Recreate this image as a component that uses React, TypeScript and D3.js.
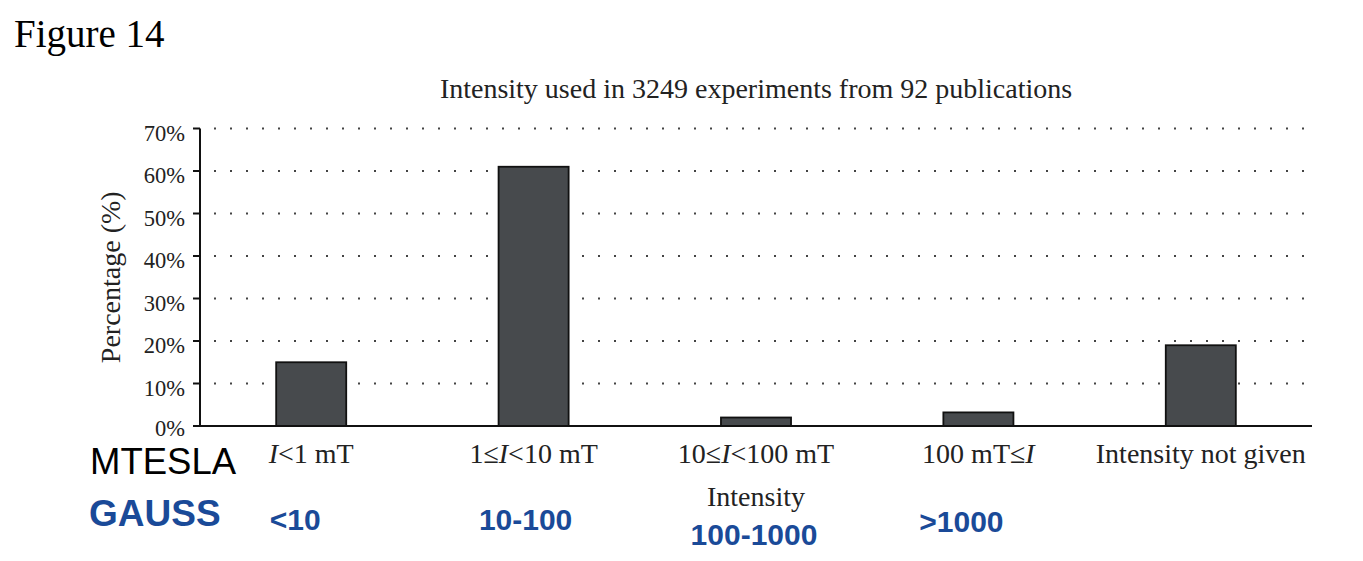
import { scaleBand, scaleLinear } from "d3";

// values
const categories = ["I<1 mT", "1≤I<10 mT", "10≤I<100 mT", "100 mT≤I", "Intensity not given"];
const percentages = [15, 61, 2, 3.2, 19];
const yTicks = [0, 10, 20, 30, 40, 50, 60, 70];
const gaussLabels = ["<10", "10-100", "100-1000", ">1000"];

const width = 1363;
const height = 561;
const left = 200;
const right = 1312;
const top = 128.5;
const bottom = 426;

const serif = "'Liberation Serif', 'Times New Roman', serif";
const sans = "'Liberation Sans', Arial, sans-serif";
const textColor = "#222";
const blue = "#1a4a98";

// lone "I" (the intensity symbol) is set in italics
const renderLabel = (label: string) =>
  label.split(/(I(?![a-z]))/).filter(s => s !== "").map((s, i) =>
    s === "I" ? <tspan key={i} fontStyle="italic">I</tspan> : <tspan key={i}>{s}</tspan>
  );

// gauss labels are not quite centred under the bars in the original
const gaussDx = [-16, -8, -2, -17];
const gaussY = [530, 530, 545, 532];

export default function App() {
  const x = scaleBand<string>()
    .domain(categories)
    .range([left, right])
    .paddingInner(0.685)
    .paddingOuter(0.3425);
  const y = scaleLinear().domain([0, 70]).range([bottom, top]);

  return (
    <svg width={width} height={height} style={{ position: "absolute", left: 0, top: 0, background: "#fff" }}>
      <text x={14} y={47} fontFamily={serif} fontSize={39} fill="#000">Figure 14</text>

      <text x={(left + right) / 2} y={98} textAnchor="middle" fontFamily={serif} fontSize={28} fill={textColor}>
        Intensity used in 3249 experiments from 92 publications
      </text>

      {/* dotted grid */}
      {yTicks.filter(t => t > 0).map(t => (
        <line key={t} x1={214} x2={1304} y1={y(t)} y2={y(t)}
          stroke="#444" strokeWidth={2} strokeDasharray="2 14" />
      ))}

      {/* bars */}
      {categories.map((c, i) => (
        <rect key={c} x={x(c)} y={y(percentages[i])} width={x.bandwidth()}
          height={bottom - y(percentages[i])} fill="#474a4d" stroke="#111" strokeWidth={1.8} />
      ))}

      {/* y axis */}
      <line x1={left} x2={left} y1={top} y2={bottom} stroke="#111" strokeWidth={2} />
      {yTicks.map(t => (
        <g key={t}>
          <line x1={left - 7} x2={left} y1={y(t)} y2={y(t)} stroke="#111" strokeWidth={2} />
          <text x={left - 15} y={y(t) + (t === 0 ? 10 : 12)} textAnchor="end" fontFamily={serif} fontSize={22.5} fill={textColor}>
            {t}%
          </text>
        </g>
      ))}
      <text transform={`translate(120, ${(top + bottom) / 2}) rotate(-90)`} textAnchor="middle"
        fontFamily={serif} fontSize={28} fill={textColor}>
        Percentage (%)
      </text>

      {/* x axis */}
      <line x1={left} x2={right} y1={bottom} y2={bottom} stroke="#111" strokeWidth={2} />
      {categories.map(c => (
        <text key={c} x={x(c)! + x.bandwidth() / 2} y={463} textAnchor="middle"
          fontFamily={serif} fontSize={28} fill={textColor}>
          {renderLabel(c)}
        </text>
      ))}
      <text x={(left + right) / 2} y={506} textAnchor="middle" fontFamily={serif} fontSize={28} fill={textColor}>
        Intensity
      </text>

      {/* unit annotations */}
      <text x={90} y={474} fontFamily={sans} fontSize={36.5} fill="#000">MTESLA</text>
      <text x={89} y={526} fontFamily={sans} fontSize={37} fontWeight="bold" fill={blue}>GAUSS</text>
      {gaussLabels.map((g, i) => (
        <text key={g} x={x(categories[i])! + x.bandwidth() / 2 + gaussDx[i]} y={gaussY[i]}
          textAnchor="middle" fontFamily={sans} fontSize={30} fontWeight="bold" fill={blue}>
          {g}
        </text>
      ))}
    </svg>
  );
}
